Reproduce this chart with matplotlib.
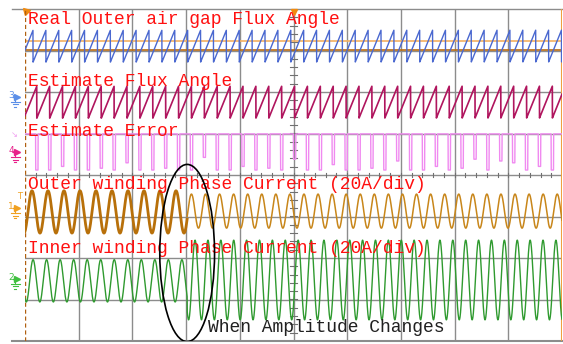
import numpy as np
import matplotlib.pyplot as plt
from matplotlib.patches import Ellipse

# screen is 10 x 8 divisions, values below are in divisions
t_change = 3.02

# flux angle sawtooths (low, high, period, first wrap)
real_angle = (2.72, 3.49, 0.240, 0.15)
est_angle = (1.37, 2.14, 0.240, 0.22)

# estimate error: baseline, spike bottom, spike depth fractions
err_base = 0.99
err_floor = 0.12
err_depth = [1.0, 1.0, 0.9, 1.0, 1.0, 0.95, 1.0, 0.8, 1.0, 1.0,
             0.95, 1.0, 1.0, 0.65, 1.0, 1.0, 0.9, 1.0, 0.95, 1.0,
             0.7, 1.0, 1.0, 0.85, 1.0, 1.0, 0.95, 1.0, 0.75, 1.0,
             1.0, 0.9, 1.0, 0.95, 0.7, 1.0, 0.75, 0.8, 1.0, 0.9, 1.0]

# phase currents (center, amplitude, period) before / after the change
outer_before = (-0.89, 0.51, 0.298)
outer_after = (-0.87, 0.41, 0.262)
inner_before = (-2.55, 0.51, 0.252)
inner_after = (-2.53, 0.96, 0.240)
outer_peak0 = 0.13
inner_peak0 = 0.15

labels = ["Real Outer air gap Flux Angle",
          "Estimate Flux Angle",
          "Estimate Error",
          "Outer winding Phase Current (20A/div)",
          "Inner winding Phase Current (20A/div)"]
label_y = [3.75, 2.25, 1.05, -0.24, -1.78]
note = "When Amplitude Changes"

t = np.linspace(0, 10, 6000)


def sawtooth(lo, hi, period, wrap0):
    frac = ((t - wrap0) / period) % 1.0
    return lo + (hi - lo) * frac


def current(before, after, peak0):
    c1, a1, p1 = before
    c2, a2, p2 = after
    ph1 = 2 * np.pi * (t - peak0) / p1
    ph_c = 2 * np.pi * (t_change - peak0) / p1
    ph2 = ph_c + 2 * np.pi * (t - t_change) / p2
    return np.where(t < t_change, c1 + a1 * np.cos(ph1), c2 + a2 * np.cos(ph2))


fig = plt.figure(figsize=(5.63, 3.44), dpi=100)
ax = fig.add_axes([25 / 563, 3 / 344, 537 / 563, 332 / 344])
ax.set_xlim(0, 10)
ax.set_ylim(-4, 4)
ax.axis("off")

# graticule
for gx in range(1, 10):
    ax.axvline(gx, color="#8c8c8c", lw=1, zorder=1)
for gy in range(-3, 4):
    ax.axhline(gy, color="#8c8c8c", lw=1, zorder=1)
ax.plot([-0.24, 10], [4, 4], color="#8c8c8c", lw=1, clip_on=False)
ax.plot([-0.24, 10], [-4, -4], color="#8c8c8c", lw=1.5, clip_on=False)
for m in np.arange(0.2, 10, 0.2):
    ax.plot([m, m], [-0.06, 0.06], color="#707070", lw=0.8, zorder=1)
for m in np.arange(-3.8, 4, 0.2):
    ax.plot([4.94, 5.06], [m, m], color="#707070", lw=0.8, zorder=1)

# cursors / trigger
ax.axvline(0, color="#b06010", lw=1, ls=(0, (3, 2)), zorder=3)
ax.axvline(10, color="#f0a040", lw=1.5, zorder=3)
ax.axhline(3.23, color="#f5b060", lw=1.2, zorder=2)
ax.axhline(3.01, color="#b86a10", lw=1.2, zorder=2)
ax.plot([0.02], [3.96], marker=(3, 0, 45), ms=6, color="#f08a10", clip_on=False)
ax.plot([5], [3.93], marker="v", ms=5, color="#f08a10", clip_on=False)

# traces
ax.plot(t, sawtooth(*real_angle), color="#4a68d0", lw=1, zorder=4)
ax.plot(t, sawtooth(*est_angle), color="#b0155e", lw=1.2, zorder=4)

err = np.full_like(t, err_base)
p = est_angle[2]
for k, d in enumerate(err_depth):
    c = est_angle[3] + k * p
    err[np.abs(t - c) < 0.022] = err_base - d * (err_base - err_floor)
ax.plot(t, err, color="#f08af0", lw=1, zorder=4)

outer = current(outer_before, outer_after, outer_peak0)
inner = current(inner_before, inner_after, inner_peak0)
pre = t <= t_change
ax.plot(t[pre], outer[pre], color="#b8700a", lw=2, zorder=4)
ax.plot(t[~pre], outer[~pre], color="#c8861a", lw=1.1, zorder=4)
ax.plot(t, inner, color="#2f9a2f", lw=1, zorder=4)

# channel markers on the left edge
def chan_marker(y, num, color, trig=False):
    x0 = -0.16
    ax.text(x0 - 0.1, y + 0.04, num, color=color, fontsize=6.5,
            ha="center", va="center", clip_on=False)
    ax.plot([x0 + 0.02], [y], marker=">", ms=4, color=color, clip_on=False)
    ax.plot([x0 - 0.06, x0 + 0.02], [y, y], color=color, lw=1, clip_on=False)
    for i, w in enumerate([0.08, 0.05, 0.02]):
        yy = y - 0.12 - i * 0.06
        ax.plot([x0 - 0.02 - w, x0 - 0.02 + w], [yy, yy], color=color,
                lw=0.8, clip_on=False)
    ax.plot([x0 - 0.02, x0 - 0.02], [y, y - 0.12], color=color, lw=0.8, clip_on=False)
    if trig:
        ax.text(x0 + 0.05, y + 0.28, "T", color=color, fontsize=6,
                ha="center", va="center", clip_on=False)


chan_marker(1.88, "3", "#5c8fe8")
chan_marker(0.55, "4", "#e8208a")
ax.text(-0.2, 0.98, "\u2198", color="#f0a0f0", fontsize=6, ha="center",
        va="center", clip_on=False)
chan_marker(-0.8, "1", "#f0a020", trig=True)
chan_marker(-2.5, "2", "#40c040")

# annotations
for s, y in zip(labels, label_y):
    ax.text(0.06, y, s, color="#ff1010", fontsize=13, family="Liberation Mono",
            ha="left", va="center", zorder=6)
ax.text(3.41, -3.68, note, color="#202020", fontsize=13, family="Liberation Mono",
        ha="left", va="center", zorder=6)
ax.add_patch(Ellipse((3.02, -1.88), 1.02, 4.27, fill=False, ec="black",
                     lw=1.2, zorder=6))

fig.savefig("out.png", dpi=100)
